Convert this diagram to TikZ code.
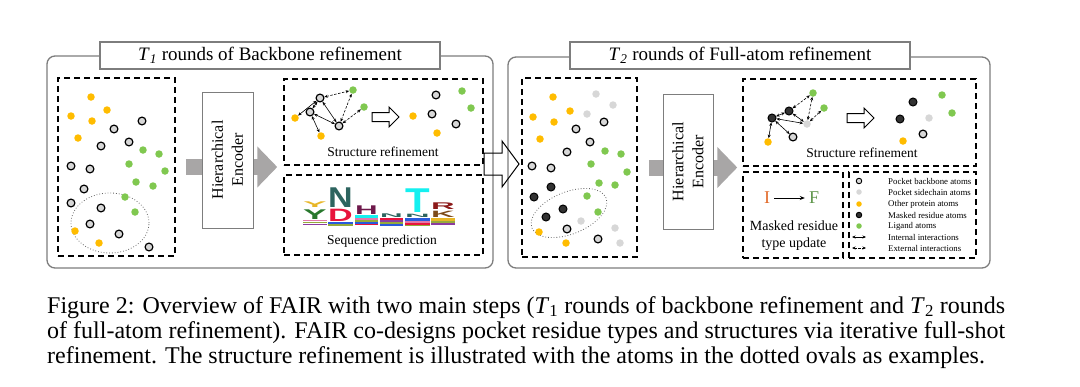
\documentclass[tikz,border=0pt]{standalone}
\usepackage{fontspec}
\setmainfont{Liberation Serif}
\newfontfamily\logofont{Liberation Sans}
\usepackage{graphicx}
\usetikzlibrary{arrows.meta, shapes.geometric}

\definecolor{atomorange}{RGB}{255,188,0}
\definecolor{atomgreen}{RGB}{128,200,80}
\definecolor{atomgray}{RGB}{215,215,215}
\definecolor{atomblack}{RGB}{50,50,50}
\definecolor{flowgray}{RGB}{168,166,166}
\definecolor{framegray}{RGB}{125,125,125}
\definecolor{resorange}{RGB}{225,105,40}
\definecolor{resgreen}{RGB}{95,150,75}
% sequence logo colours
\definecolor{lgyellow}{RGB}{232,182,40}
\definecolor{lggreen}{RGB}{40,120,45}
\definecolor{lgteal}{RGB}{45,100,95}
\definecolor{lgred}{RGB}{232,20,60}
\definecolor{lgmaroon}{RGB}{110,25,75}
\definecolor{lgcyan}{RGB}{20,240,240}
\definecolor{lgdkred}{RGB}{140,25,25}
\definecolor{lgbrown}{RGB}{125,75,25}
\definecolor{lgpink}{RGB}{225,120,170}
\definecolor{lgblue}{RGB}{40,90,220}
\definecolor{lgpurple}{RGB}{140,60,160}
\definecolor{lgolive}{RGB}{150,170,60}

% outlined block arrow: start, length, head length, body half-height, head half-height
\newcommand{\hollowarrow}[5]{%
  \draw[line width=1pt, line join=miter] (#1) ++(0,-#4) -- ++({#2-#3},0) -- ++(0,{#4-#5})
    -- ++(#3,#5) -- ++(-#3,#5) -- ++(0,{#4-#5}) -- ++({#3-#2},0) -- cycle;}

\begin{document}
\begin{tikzpicture}[
  x=1pt, y=-1pt,
  panel/.style={draw=framegray, rounded corners=8pt, line width=1.3pt},
  titlebox/.style={draw=framegray, fill=white, line width=1.2pt, inner sep=0pt,
                   font=\fontsize{19}{22}\selectfont},
  dbox/.style={draw, dash pattern=on 6pt off 4pt, line width=1.5pt, inner sep=0pt},
  enc/.style={draw=framegray, fill=white, line width=1pt, rotate=90, align=center,
              inner sep=0pt, font=\fontsize{16}{20}\selectfont},
  flow/.style={draw=flowgray, line width=16pt, -{Triangle[length=20pt, width=40pt]}},
  atom/.style={circle, inner sep=0pt, minimum size=7.5pt},
  bb/.style={atom, draw=black, fill=atomgray, line width=1.2pt, minimum size=7.8pt},
  sc/.style={atom, fill=atomgray},
  oth/.style={atom, fill=atomorange},
  msk/.style={atom, draw=black, fill=atomblack, line width=1pt, minimum size=8pt},
  lig/.style={atom, fill=atomgreen},
  oval/.style={ellipse, draw=gray!80!black, dotted, line width=0.8pt, inner sep=0pt},
  intarr/.style={{Stealth[length=3.5pt, width=3pt]}-{Stealth[length=3.5pt, width=3pt]},
                 line width=0.6pt},
  extarr/.style={intarr, dash pattern=on 2.5pt off 1.5pt},
  lbl/.style={font=\fontsize{13.5}{16}\selectfont, inner sep=0pt},
  legsym/.style={minimum size=5.5pt, line width=0.9pt},
  legtext/.style={anchor=west, inner sep=0pt, font=\fontsize{8.8}{11}\selectfont},
  logo/.style={anchor=south west, inner sep=0pt},
]
  \useasboundingbox (0,0) rectangle (1080,386);

  % ---- Panels with their titles ----
  \node[panel, minimum width=446pt, minimum height=212pt] (panelA) at (270,162) {};
  \node[panel, minimum width=482pt, minimum height=211pt] (panelB) at (749,162.5) {};
  \node[titlebox, minimum width=340pt, minimum height=27pt] (titleA) at (270,55.5)
    {\textit{T}\textsubscript{\textit{1}} rounds of Backbone refinement};
  \node[titlebox, minimum width=340pt, minimum height=27pt] (titleB) at (740,55.5)
    {\textit{T}\textsubscript{\textit{2}} rounds of Full-atom refinement};

  % ---- Dashed boxes ----
  \node[dbox, minimum width=117pt, minimum height=178pt] (atomsA) at (116.5,167) {};
  \node[dbox, minimum width=199pt, minimum height=86pt]  (refA)   at (383.5,122) {};
  \node[dbox, minimum width=199pt, minimum height=80pt]  (seqA)   at (383.5,215) {};
  \node[dbox, minimum width=115pt, minimum height=179pt] (atomsB) at (579.5,167.5) {};
  \node[dbox, minimum width=233pt, minimum height=87pt]  (refB)   at (859.5,122.5) {};
  \node[dbox, minimum width=100pt, minimum height=86pt]  (maskB)  at (793,215) {};
  \node[dbox, minimum width=127pt, minimum height=86pt]  (legB)   at (912.5,215) {};

  % ---- Flow through the encoders ----
  \coordinate (gA) at (refA.west |- atomsA.east);
  \coordinate (gB) at (refB.west |- atomsB.east);
  \draw[flow] ([xshift=10pt]atomsA.east) -- ([xshift=-6pt]gA);
  \draw[flow] ([xshift=11pt]atomsB.east) -- ([xshift=-5pt]gB);
  \node[enc, minimum width=136pt, minimum height=51pt] (encA) at (227.5,160) {Hierarchical\\Encoder};
  \node[enc, minimum width=135pt, minimum height=50pt] (encB) at (688,161.5) {Hierarchical\\Encoder};

  % ---- Step arrow between the panels ----
  \coordinate (bigArr) at (484,164);
  \hollowarrow{bigArr}{35}{17}{11}{23}

  % ==== ATOMS, PANEL A ====
  \node[oval, minimum width=78pt, minimum height=60pt] (ovalA) at (110,223) {};
  \foreach \p [count=\i] in {(91,97),(71,116),(107,110),(92,121),(78,138),(75,231),(99,243)}
    \node[oth] (oA\i) at \p {};
  \foreach \p [count=\i] in {(142,121),(114,129),(129,142),(101,146),(71,166),(90,169),
                             (84,189),(71,203),(101,208),(90,224),(119,234),(149,247)}
    \node[bb] (bA\i) at \p {};
  \foreach \p [count=\i] in {(143,150),(159,154),(129,164),(165,171),(136,182),(153,186),
                             (125,197),(135,212)}
    \node[lig] (gA\i) at \p {};

  % ==== ATOMS, PANEL B ====
  \node[oval, rotate=22, minimum width=80pt, minimum height=42pt] (ovalB) at (569,213) {};
  \foreach \p [count=\i] in {(553,97),(533,117),(570,111),(554,122),(540,139),(539,232),(566,243)}
    \node[oth] (oB\i) at \p {};
  \foreach \p [count=\i] in {(596,94),(613,105),(587,114),(581,221),(615,228),(620,243)}
    \node[sc] (sB\i) at \p {};
  \foreach \p [count=\i] in {(604,122),(576,129),(590,142),(567,152),(532,166),(551,168),
                             (567,229),(598,239)}
    \node[bb] (bB\i) at \p {};
  \foreach \p [count=\i] in {(551,187),(534,197),(563,209),(546,217)}
    \node[msk] (mB\i) at \p {};
  \foreach \p [count=\i] in {(605,151),(621,154),(591,164),(627,172),(599,183),(615,185),
                             (587,196),(598,212)}
    \node[lig] (gB\i) at \p {};

  % ==== STRUCTURE REFINEMENT, PANEL A ====
  \node[bb]  (a1) at (320,98) {};
  \node[bb]  (a2) at (310,112) {};
  \node[bb]  (a3) at (339,126) {};
  \node[oth] (a4) at (295,118) {};
  \node[oth] (a5) at (321,136) {};
  \node[lig] (a6) at (353,90) {};
  \node[lig] (a7) at (364,107) {};
  \draw[intarr] (a1) -- (a4);
  \draw[intarr] (a1) -- (a2);
  \draw[intarr] (a1) -- (a3);
  \draw[intarr] (a2) -- (a3);
  \draw[intarr] (a2) -- (a5);
  \draw[extarr] (a1) -- (a6);
  \draw[extarr] (a3) -- (a6);
  \draw[extarr] (a3) -- (a7);
  \coordinate (hA) at (372,117);
  \hollowarrow{hA}{27}{10}{4.5}{10}
  \node[oth] (ra1) at (413,116) {};
  \node[bb]  (ra2) at (436,95) {};
  \node[bb]  (ra3) at (432,114) {};
  \node[bb]  (ra4) at (456,124) {};
  \node[oth] (ra5) at (437,133) {};
  \node[lig] (ra6) at (462,91) {};
  \node[lig] (ra7) at (471,108) {};
  \node[lbl] (refAtxt) at (383,152) {Structure refinement};

  % ==== SEQUENCE PREDICTION (logo) ====
  % thin bands at the foot of each column
  \foreach \sx/\sy/\sw/\sh/\sc in {
      303/219.6/24/1.8/lgpink, 303/221.6/24/1.8/lgolive, 303/223.6/24/1.8/lgpurple,
      328/222.4/25/1.8/lgblue, 328/224.2/25/1.6/lgolive,
      355/215.4/23/2.2/lgcyan, 355/217.8/23/1.8/lgpink, 355/219.8/23/1.8/lgolive,
      355/221.8/23/1.8/lgblue, 355/223.8/23/1.6/lgred,
      380/218.4/23/1.8/lgred, 380/220.4/23/1.8/lgpurple, 380/222.4/23/1.8/lgolive,
      380/224.2/23/1.4/lgblue,
      405/218.4/25/2.2/lgblue, 405/220.8/25/1.8/lgpink, 405/222.8/25/1.8/lgred,
      405/224.6/25/1.2/lgolive,
      431/218.4/24/2.4/lgyellow, 431/221/24/1.8/lgolive, 431/223/24/2/lgpurple}
    \fill[\sc] (\sx,\sy) rectangle ++(\sw,\sh);
  % letters
  \foreach \nm/\lx/\ly/\lw/\lh/\lc/\lt in {
      q1/303/208/24/7/lgyellow/Y, q2/303/219.2/24/11/lggreen/Y,
      q6/328/208/25/21/lgteal/N, q7/328/222/25/13.6/lgred/D,
      q9/355/215/23/10/lgmaroon/H,
      q14/380/218/23/5/lgteal/N,
      q18/405/213/25/25/lgcyan/T, q19/405/218/25/4.6/lgteal/N,
      q23/431/210/24/8/lgdkred/R, q24/431/218/24/7.6/lgbrown/K}
    \node[logo] (\nm) at (\lx,\ly)
      {\resizebox{\dimexpr\lw pt-0.4pt\relax}{\dimexpr\lh pt-1.3pt\relax}{\textcolor{\lc}{\logofont\bfseries \lt}}};
  \node[lbl] (seqAtxt) at (382,241) {Sequence prediction};

  % ==== STRUCTURE REFINEMENT, PANEL B ====
  \node[msk] (b1) at (772,118) {};
  \node[msk] (b2) at (789,111) {};
  \node[sc]  (b3) at (807,124) {};
  \node[bb]  (b4) at (793,137) {};
  \node[oth] (b5) at (768,142) {};
  \node[lig] (b6) at (813,93) {};
  \node[lig] (b7) at (824,108) {};
  \draw[intarr] (b1) -- (b5);
  \draw[intarr] (b1) -- (b2);
  \draw[intarr] (b1) -- (b3);
  \draw[intarr] (b1) -- (b4);
  \draw[intarr] (b2) -- (b3);
  \draw[extarr] (b2) -- (b6);
  \draw[extarr] (b3) -- (b6);
  \draw[extarr] (b3) -- (b7);
  \coordinate (hB) at (847,118);
  \hollowarrow{hB}{27}{10}{4.5}{10}
  \node[msk] (rb1) at (913,102) {};
  \node[msk] (rb2) at (900,119) {};
  \node[sc]  (rb3) at (929,118) {};
  \node[bb]  (rb4) at (923,134) {};
  \node[oth] (rb5) at (903,141) {};
  \node[lig] (rb6) at (942,95) {};
  \node[lig] (rb7) at (952,113) {};
  \node[lbl] (refBtxt) at (862,153) {Structure refinement};

  % ==== MASKED RESIDUE TYPE UPDATE ====
  \node[font=\fontsize{18}{18}\selectfont, text=resorange, inner sep=1pt] (resI) at (767,198) {I};
  \node[font=\fontsize{18}{18}\selectfont, text=resgreen, inner sep=1pt] (resF) at (814,198) {F};
  \draw[-{Stealth[length=5pt, width=4pt]}, line width=0.7pt] ([xshift=3pt]resI.east) -- ([xshift=-3pt]resF.west);
  \node[align=center, inner sep=0pt, font=\fontsize{14}{17}\selectfont] (maskTxt) at (794,236)
    {Masked residue\\type update};

  % ==== LEGEND ====
  \node[bb, legsym]  (ls1) at (859,181) {};
  \node[sc, legsym]  (ls2) at (859,192) {};
  \node[oth, legsym] (ls3) at (859,204) {};
  \node[msk, legsym] (ls4) at (859,215) {};
  \node[lig, legsym] (ls5) at (859,226) {};
  \coordinate (li1) at (852,237); \coordinate (li2) at (866,237);
  \coordinate (le1) at (852,248); \coordinate (le2) at (866,248);
  \draw[intarr] (li1) -- (li2);
  \draw[extarr] (le1) -- (le2);
  \node[legtext] (lt1) at (888,181) {Pocket backbone atoms};
  \node[legtext] (lt2) at (888,192) {Pocket sidechain atoms};
  \node[legtext] (lt3) at (888,204) {Other protein atoms};
  \node[legtext] (lt4) at (888,215) {Masked residue atoms};
  \node[legtext] (lt5) at (888,226) {Ligand atoms};
  \node[legtext] (lt6) at (888,237) {Internal interactions};
  \node[legtext] (lt7) at (888,248) {External interactions};

  % ==== CAPTION ====
  \node[anchor=north west, align=left, inner sep=0pt, font=\fontsize{24}{25}\selectfont] (caption) at (47,296)
    {Figure 2: Overview of FAIR with two main steps (\textit{T}\textsubscript{1} rounds of backbone refinement and \textit{T}\textsubscript{2} rounds\\
     of full-atom refinement). FAIR co-designs pocket residue types and structures via iterative full-shot\\
     refinement. The structure refinement is illustrated with the atoms in the dotted ovals as examples.};
\end{tikzpicture}
\end{document}
